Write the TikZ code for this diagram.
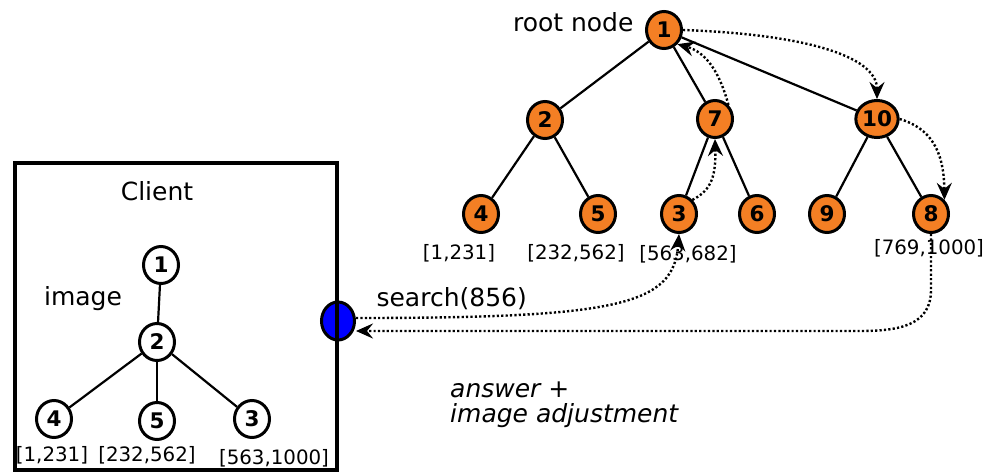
\documentclass[tikz,border=0pt]{standalone}
\usepackage{fontspec}
\setmainfont{DejaVu Sans}
\usetikzlibrary{shapes.geometric,arrows.meta}
\definecolor{tnode}{HTML}{F47F24}
\definecolor{cblue}{HTML}{0000FF}
\tikzset{
  tn/.style={ellipse,draw=black,line width=3pt,fill=tnode,minimum width=35pt,minimum height=37pt,inner sep=0pt,font=\fontsize{21.5}{21.5}\selectfont\bfseries},
  wn/.style={tn,fill=white},
  edge/.style={line width=2.2pt},
  dots/.style={line width=2.4pt,dash pattern=on 2.2pt off 2.2pt,-{Stealth[length=17pt,width=15pt,inset=6pt,sharp]}},
  big/.style={font=\fontsize{25}{25}\selectfont},
  small/.style={font=\fontsize{19.8}{19.8}\selectfont},
}
\begin{document}
\begin{tikzpicture}[x=1pt,y=-1pt]
\useasboundingbox (0,0) rectangle (986,472);
% server tree
\node[tn] (n1) at (664,30) {1};
\node[tn] (n2) at (545,120) {2};
\node[tn] (n7) at (715,119) {7};
\node[tn] (n10) at (877,119) {10};
\node[tn] (n4) at (481,214) {4};
\node[tn] (n5) at (598,214) {5};
\node[tn] (n3) at (679,214) {3};
\node[tn] (n6) at (757,214) {6};
\node[tn] (n9) at (827,214) {9};
\node[tn] (n8) at (931,214) {8};
\draw[edge] (n1) -- (n2);
\draw[edge] (n1) -- (n7);
\draw[edge] (n1) -- (n10);
\draw[edge] (n2) -- (n4);
\draw[edge] (n2) -- (n5);
\draw[edge] (n7) -- (n3);
\draw[edge] (n7) -- (n6);
\draw[edge] (n10) -- (n9);
\draw[edge] (n10) -- (n8);
\node[big,anchor=east] (root) at (637,22) {root node};
\node[small] (l4) at (459,253) {[1,231]};
\node[small] (l5) at (576,253) {[232,562]};
\node[small] (l3) at (688,254) {[563,682]};
\node[small] (l8) at (929,248) {[769,1000]};
% client
\node[ellipse,draw=black,line width=3pt,fill=cblue,minimum width=33pt,minimum height=38pt,inner sep=0pt] (blue) at (338,321) {};
\draw[line width=4pt] (15,163) rectangle (337,470);
\node[big] (client) at (157,191) {Client};
\node[big] (img) at (83,299) {image};
\node[wn] (c1) at (161,265) {1};
\node[wn] (c2) at (157,342) {2};
\node[wn] (c4) at (54,419) {4};
\node[wn] (c5) at (157,421) {5};
\node[wn] (c3) at (252,419) {3};
\draw[edge] (c1) -- (c2);
\draw[edge] (c2) -- (c4);
\draw[edge] (c2) -- (c5);
\draw[edge] (c2) -- (c3);
\node[small] (cl4) at (52,455) {[1,231]};
\node[small] (cl5) at (147,455) {[232,562]};
\node[small] (cl3) at (274,458) {[563,1000]};
% labels
\node[big,anchor=west] (search) at (373,299) {search(856)};
\node[anchor=north west,align=left,font=\fontsize{25}{25}\selectfont\itshape,inner sep=0pt] (ans) at (450,382) {answer +\\image adjustment};
% dotted paths
\coordinate (b1) at (356,318);
\coordinate (b2) at (356,331);
\draw[dots] (b1) .. controls (620,318) and (674,305) .. (n3.south);
\draw[dots] (n8.south) -- (931,290) .. controls (931,325) and (900,331) .. (860,331) -- (b2);
\draw[dots] (n1.east) .. controls (800,34) and (877,55) .. (n10.north);
\draw[dots] (n7.north east) .. controls (719,70) and (705,52) .. (n1.south east);
\draw[dots] (n3.north east) .. controls (712,190) and (716,175) .. (n7.south);
\draw[dots] (n10.east) .. controls (930,128) and (944,150) .. (n8.north east);
\end{tikzpicture}
\end{document}
